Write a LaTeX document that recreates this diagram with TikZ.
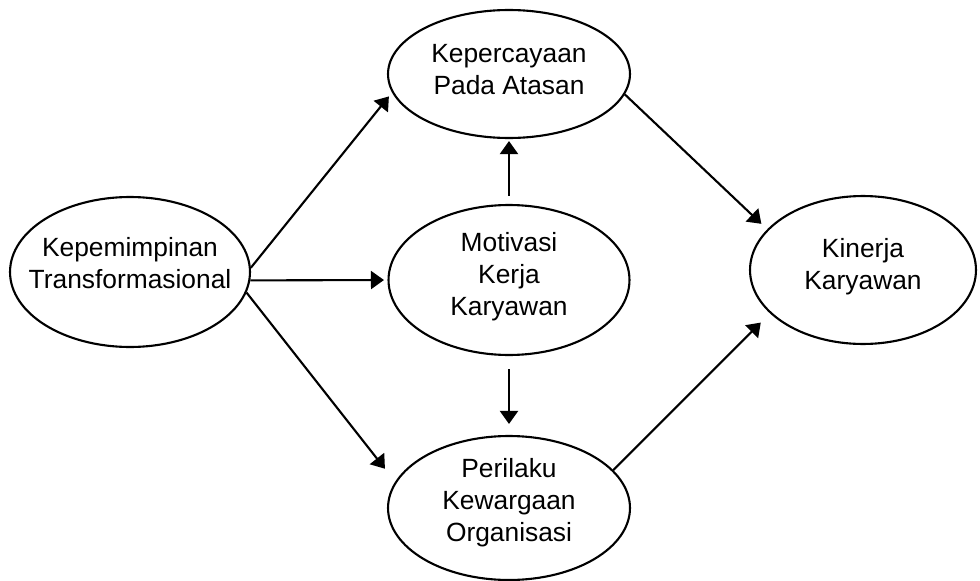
\documentclass[tikz,border=0pt]{standalone}
\usepackage{fontspec}
\setmainfont{Liberation Sans}
\usetikzlibrary{shapes.geometric,arrows.meta}

% text in a zero-size box, so the ellipse keeps its own size
\newcommand{\teks}[2][0pt]{\raisebox{#1}[0pt][0pt]{\makebox[0pt]{\begin{tabular}{@{}c@{}}#2\end{tabular}}}}

\begin{document}
\begin{tikzpicture}[x=0.02cm, y=-0.02cm, line width=1.2pt,
		>={Triangle[length=0.26cm, width=0.36cm]},
		var/.style={ellipse, draw, inner sep=0pt, font=\fontsize{15}{18.2}\selectfont}]
			\useasboundingbox (0,0) rectangle (980,581);
			
			\node[var, minimum width=4.8cm, minimum height=3cm] (kt) at (130,272) {\teks{Kepemimpinan\\Transformasional}};
			\node[var, minimum width=4.84cm, minimum height=2.56cm] (kpa) at (509,74) {\teks[-2.6pt]{Kepercayaan\\Pada Atasan}};
			\node[var, minimum width=4.82cm, minimum height=3cm] (mkk) at (509,280) {\teks[-2.2pt]{Motivasi\\Kerja\\Karyawan}};
			\node[var, minimum width=4.84cm, minimum height=2.88cm] (pko) at (509,508) {\teks[-0.8pt]{Perilaku\\Kewargaan\\Organisasi}};
			\node[var, minimum width=4.52cm, minimum height=2.96cm] (kk) at (863,270) {\teks[-2.2pt]{Kinerja\\Karyawan}};
			
			\draw[->, shorten >=0.1cm] (kt.2) to (kpa.189);
			\draw[->, shorten >=0.07cm] (kt.356) to (mkk.180);
			\draw[->, shorten >=0.33cm] (kt.350) to (pko.167);
			\draw[->, shorten <=0.16cm, shorten >=0.04cm] (mkk.north) to (kpa.south);
			\draw[->, shorten <=0.26cm, shorten >=0.22cm] (mkk.south) to (pko.north);
			\draw[->, shorten >=0.16cm] (kpa.350) to (kk.157);
			\draw[->, shorten >=0.26cm] (pko.20) to (kk.205);
		\end{tikzpicture}
\end{document}
